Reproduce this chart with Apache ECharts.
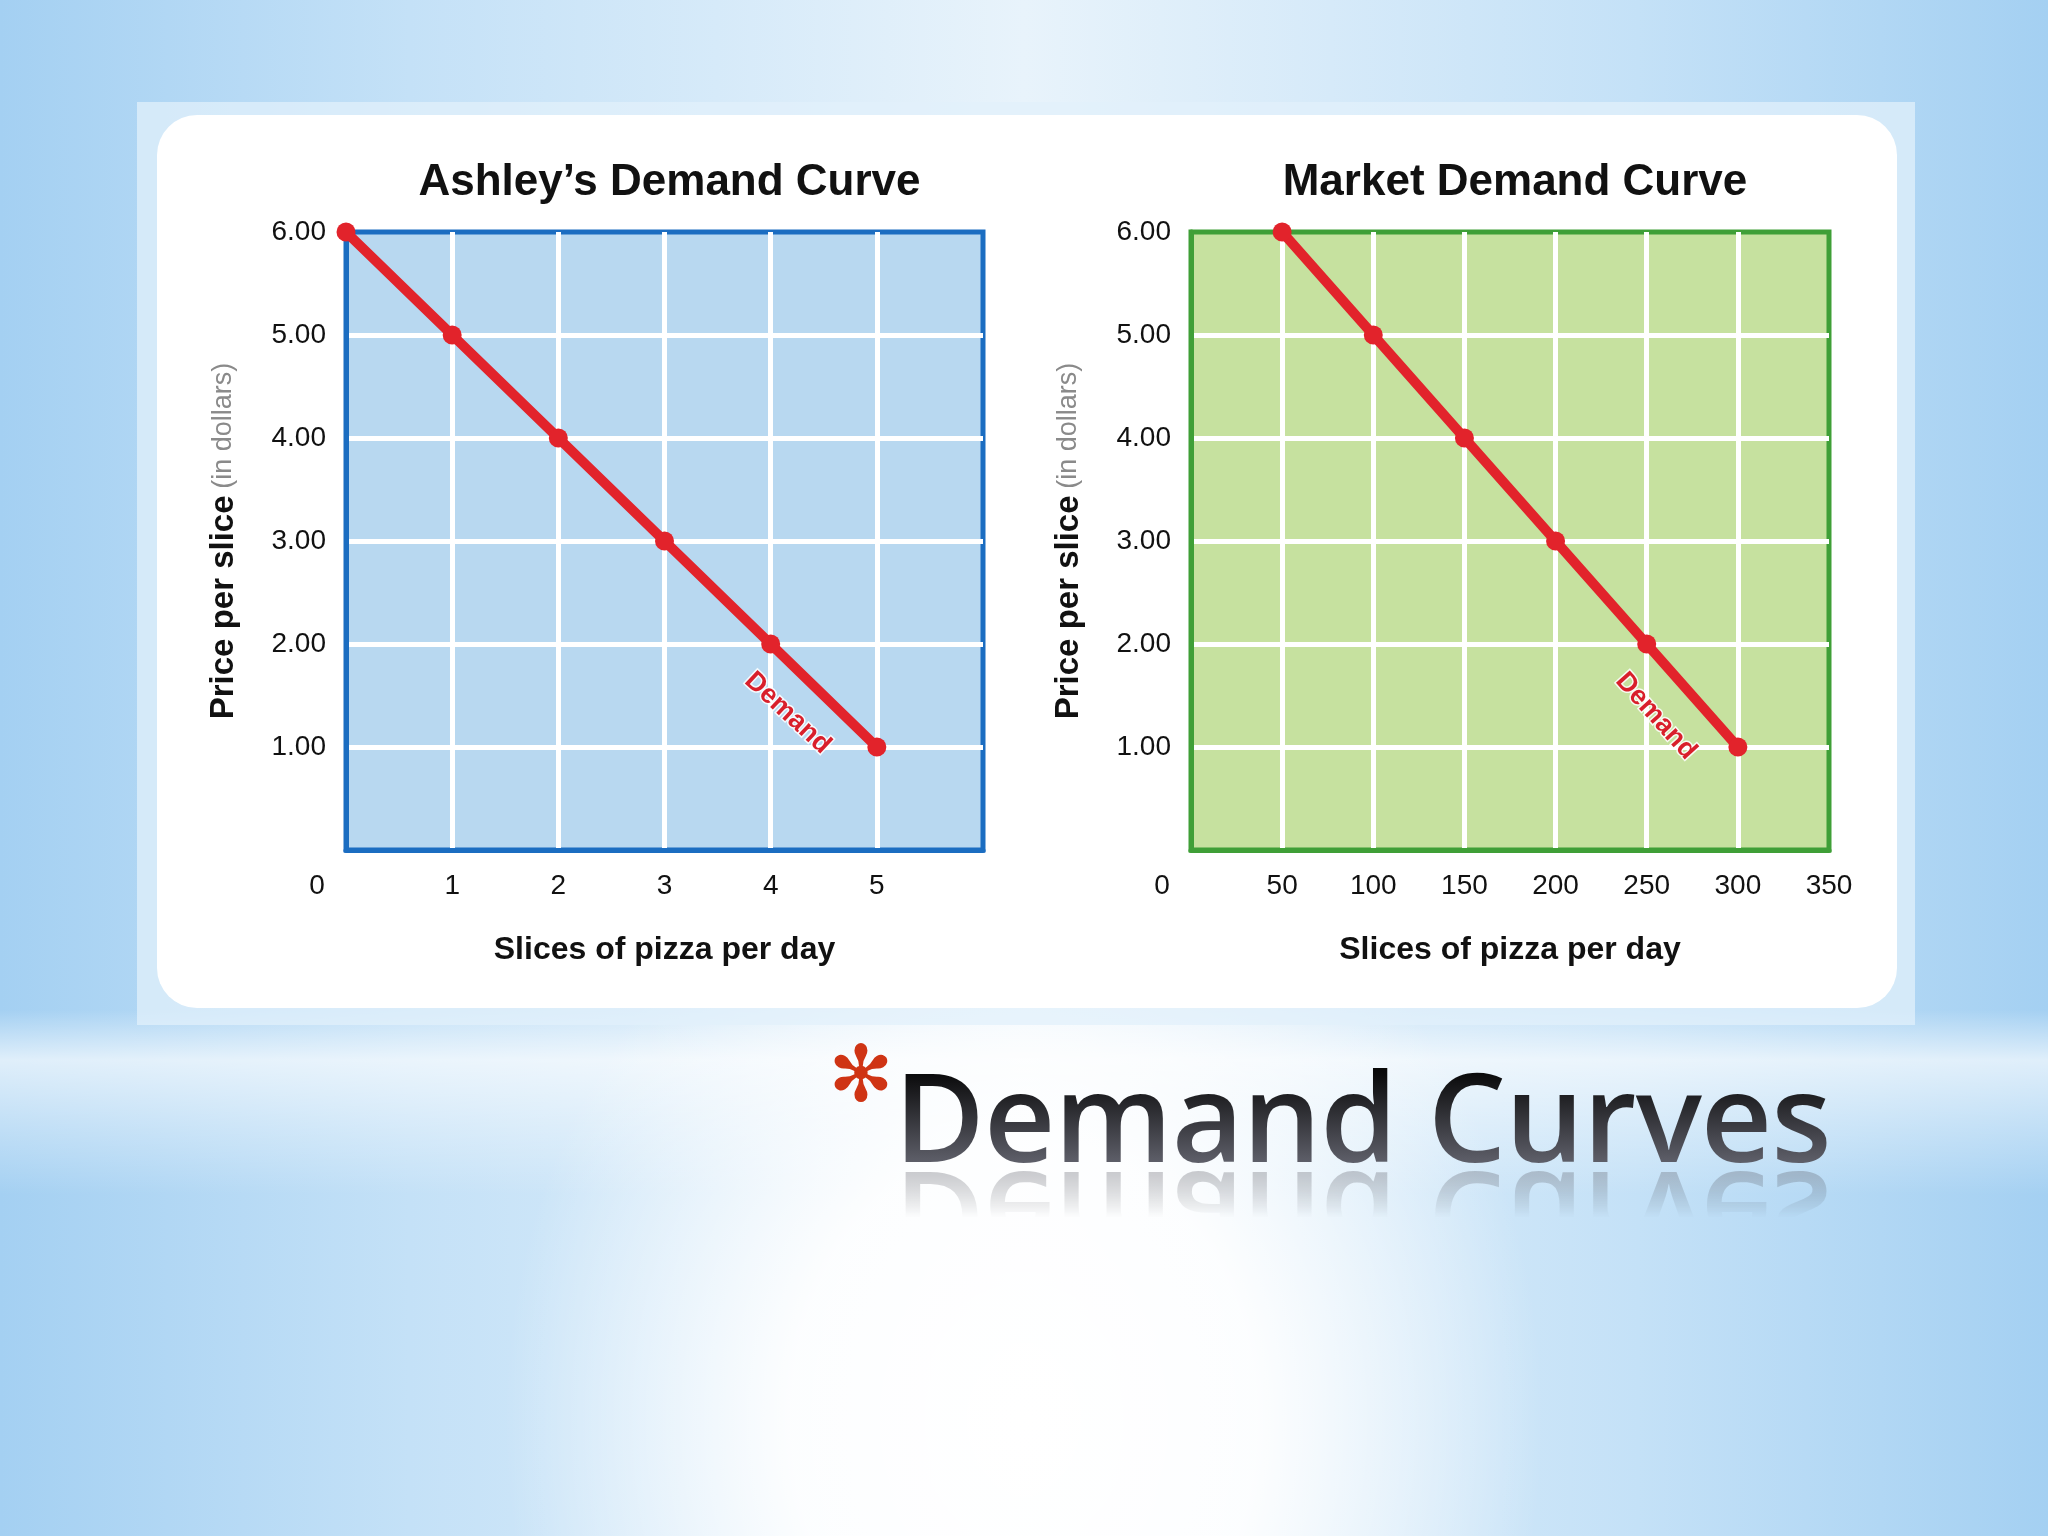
<!DOCTYPE html>
<html>
<head>
<meta charset="utf-8">
<title>Demand Curves</title>
<script src="https://cdn.jsdelivr.net/npm/echarts@6/dist/echarts.min.js"></script>
<style>
  html, body { margin: 0; padding: 0; }
  body {
    width: 2048px;
    height: 1536px;
    overflow: hidden;
    position: relative;
    background:
      radial-gradient(ellipse 520px 620px at 1024px 1420px, #ffffff 0%, rgba(255,255,255,0.92) 45%, rgba(255,255,255,0) 100%),
      linear-gradient(to bottom, rgba(255,255,255,0) 0px, rgba(255,255,255,0) 1010px, rgba(255,255,255,0.65) 1060px, rgba(255,255,255,0.3) 1130px, rgba(255,255,255,0) 1195px, rgba(255,255,255,0) 1536px),
      linear-gradient(to right, #a4d0f2 0%, #c4e1f7 20%, #e8f3fb 50%, #c4e1f7 80%, #a4d0f2 100%);
  }
  #frame { position: absolute; left: 137px; top: 102px; width: 1778px; height: 923px; background: rgba(225, 240, 251, 0.75); }
  #card { position: absolute; left: 157px; top: 115px; width: 1740px; height: 893px; background: #fff; border-radius: 40px; }
  #chart { position: absolute; left: 0; top: 0; width: 2048px; height: 1536px; }
  /* slide heading with its fading reflection */
  #heading {
    position: absolute;
    left: 894px;
    top: 1052px;
    font: 600 124px/1 "Open Sans", "Noto Sans", sans-serif;
    letter-spacing: -1px;
    white-space: nowrap;
    color: transparent;
    background: linear-gradient(to bottom, #000 0%, #0b0b0c 18%, #5e5f69 89%, #5e5f69 100%);
    -webkit-background-clip: text;
    background-clip: text;
    -webkit-box-reflect: below -18px linear-gradient(to bottom, transparent 52%, rgba(0, 0, 0, 0.42) 100%);
  }
</style>
</head>
<body>
<div id="frame"></div>
<div id="card"></div>
<div id="chart"></div>
<div id="heading">Demand Curves</div>
<script>
// quantities demanded at each price
const ashleyQty = [0, 1, 2, 3, 4, 5]
const marketQty = [50, 100, 150, 200, 250, 300]
const prices = [6, 5, 4, 3, 2, 1]

const chartTitles = ['Ashley\u2019s Demand Curve', 'Market Demand Curve']
const xAxisName = 'Slices of pizza per day'
const curveName = 'Demand'

// where the "Demand" tag sits, in data units of each chart
const ashleyTagAt = [4.16, 1.33]
const marketTagAt = [255, 1.3]

const RED = '#e2232b'
const INK = '#111'
const FONT = '"Liberation Sans", Arial, sans-serif'

const pairs = (xs, ys) => xs.map((x, i) => [x, ys[i]])

const grids = [
  { left: 346, top: 232, width: 637, height: 618, bg: '#b8d8f0', border: '#1b6dc1' },
  { left: 1191, top: 232, width: 638, height: 618, bg: '#c6e19f', border: '#3f9f37' }
]

function xAxisFor (idx, max, interval) {
  return {
    gridIndex: idx,
    type: 'value',
    min: 0,
    max: max,
    interval: interval,
    name: xAxisName,
    nameLocation: 'middle',
    nameGap: 84,
    nameTextStyle: { fontFamily: FONT, fontSize: 32, fontWeight: 'bold', color: INK },
    axisLine: { show: true, lineStyle: { color: grids[idx].border, width: 5 } },
    axisTick: { show: false },
    axisLabel: {
      margin: 22,
      fontFamily: FONT,
      fontSize: 28,
      color: INK,
      formatter: v => {
        if (v === 0) return '{z|0}'
        if (idx === 0 && v === max) return ''
        return String(v)
      },
      rich: {
        z: { fontFamily: FONT, fontSize: 28, color: INK, padding: [0, 58, 0, 0] }
      }
    },
    splitLine: { show: true, showMinLine: false, showMaxLine: false, lineStyle: { color: '#fff', width: 5 } }
  }
}

function yAxisFor (idx) {
  return {
    gridIndex: idx,
    type: 'value',
    min: 0,
    max: 6,
    interval: 1,
    name: '{b|Price per slice}  {l|(in dollars)}',
    nameLocation: 'middle',
    nameGap: 106,
    nameTextStyle: {
      rich: {
        b: { fontFamily: FONT, fontSize: 33, fontWeight: 'bold', color: INK },
        l: { fontFamily: FONT, fontSize: 27, color: '#8a8a8a' }
      }
    },
    axisLine: { show: true, lineStyle: { color: grids[idx].border, width: 5 } },
    axisTick: { show: false },
    axisLabel: {
      margin: 20,
      fontFamily: FONT,
      fontSize: 28,
      color: INK,
      formatter: v => (v === 0 ? '' : v.toFixed(2))
    },
    splitLine: { show: true, showMinLine: false, showMaxLine: false, lineStyle: { color: '#fff', width: 5 } }
  }
}

function demandSeries (idx, xs, tagAt, tagRotate) {
  return {
    type: 'line',
    name: curveName,
    xAxisIndex: idx,
    yAxisIndex: idx,
    data: pairs(xs, prices),
    clip: false,
    symbol: 'circle',
    symbolSize: 19,
    z: 5,
    itemStyle: { color: RED },
    lineStyle: { color: RED, width: 10 },
    markPoint: {
      symbol: 'circle',
      symbolSize: 1,
      itemStyle: { color: 'rgba(0,0,0,0)' },
      label: {
        show: true,
        position: 'inside',
        formatter: curveName,
        rotate: tagRotate,
        fontFamily: FONT,
        fontSize: 27,
        fontWeight: 'bold',
        color: '#d91f2b',
        textBorderColor: 'rgba(255,255,255,0.85)',
        textBorderWidth: 3
      },
      data: [{ coord: tagAt }]
    }
  }
}

const chart = echarts.init(document.getElementById('chart'), null, { renderer: 'canvas' })

chart.setOption({
  animation: false,
  backgroundColor: 'transparent',
  title: chartTitles.map((t, i) => ({
    text: t,
    left: grids[i].left + grids[i].width / 2,
    top: 156,
    textAlign: 'center',
    textStyle: { fontFamily: FONT, fontSize: 44, fontWeight: 'bold', color: INK }
  })),
  grid: grids.map(g => ({
    left: g.left,
    top: g.top,
    width: g.width,
    height: g.height,
    show: true,
    backgroundColor: g.bg,
    borderColor: g.border,
    borderWidth: 5
  })),
  xAxis: [xAxisFor(0, 6, 1), xAxisFor(1, 350, 50)],
  yAxis: [yAxisFor(0), yAxisFor(1)],
  series: [
    demandSeries(0, ashleyQty, ashleyTagAt, -43),
    demandSeries(1, marketQty, marketTagAt, -48)
  ],
  graphic: [
    // red bullet in front of the slide heading
    {
      type: 'text',
      x: 861,
      y: 1081,
      style: {
        text: '\u273B',
        font: '78px "DejaVu Sans", sans-serif',
        align: 'center',
        verticalAlign: 'middle',
        fill: '#cf3414'
      }
    }
  ]
})
</script>
</body>
</html>
